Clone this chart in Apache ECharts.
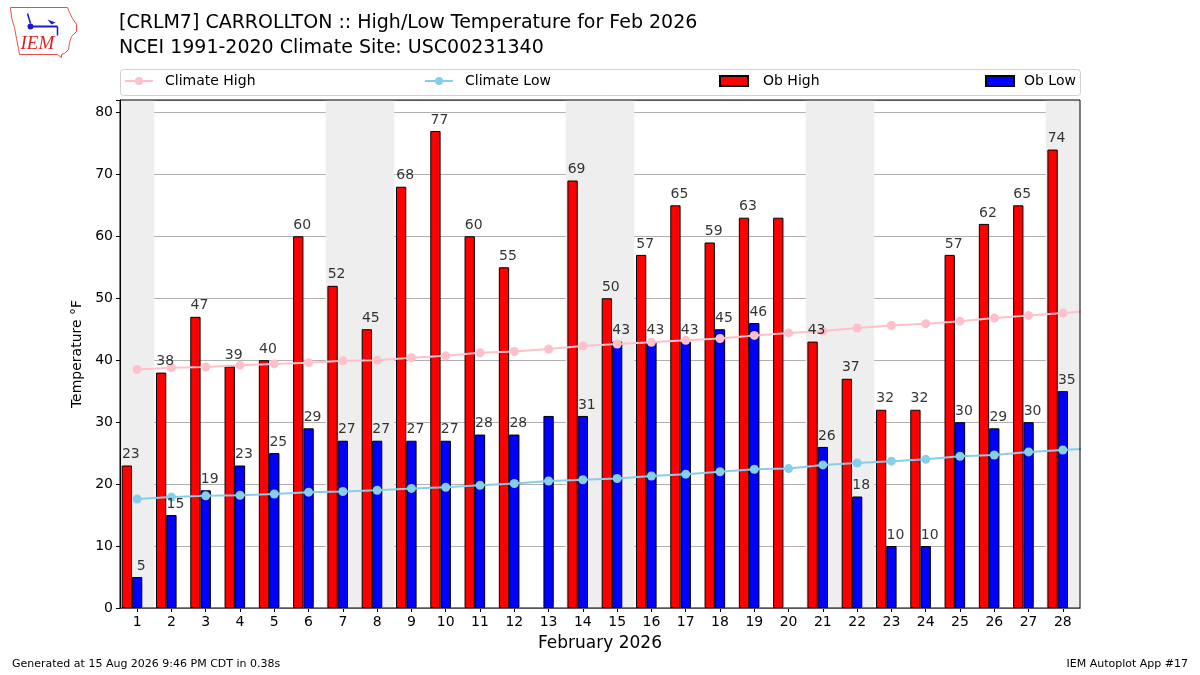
<!DOCTYPE html>
<html>
<head>
<meta charset="utf-8">
<script src="https://cdn.jsdelivr.net/npm/echarts@6/dist/echarts.min.js"></script>
<style>
  html, body { margin: 0; padding: 0; background: #fff; }
  #chart { width: 1200px; height: 675px; }
</style>
</head>
<body>
<div id="chart"></div>
<script>
// data
var dayLabels = ['1','2','3','4','5','6','7','8','9','10','11','12','13','14',
                 '15','16','17','18','19','20','21','22','23','24','25','26','27','28'];
var obHigh = [23, 38, 47, 39, 40, 60, 52, 45, 68, 77, 60, 55, null, 69,
              50, 57, 65, 59, 63, 63, 43, 37, 32, 32, 57, 62, 65, 74];
var obLow = [5, 15, 19, 23, 25, 29, 27, 27, 27, 27, 28, 28, 31, 31,
             43, 43, 43, 45, 46, null, 26, 18, 10, 10, 30, 29, 30, 35];
// days whose value label is not printed in the original
var highNoLabel = [20];
var lowNoLabel = [13];
// climatology runs one day past the end of the month (clipped at the frame)
var climateHigh = [38.5, 38.8, 38.9, 39.2, 39.4, 39.6, 39.9, 40.0, 40.4, 40.7, 41.2, 41.4, 41.8, 42.3,
                   42.6, 42.9, 43.2, 43.5, 44.0, 44.4, 44.7, 45.2, 45.6, 45.9, 46.3, 46.8, 47.2, 47.6, 48.0];
var climateLow = [17.6, 17.9, 18.1, 18.2, 18.4, 18.7, 18.8, 19.0, 19.3, 19.5, 19.8, 20.1, 20.5, 20.7,
                  20.9, 21.3, 21.6, 22.0, 22.4, 22.5, 23.1, 23.4, 23.7, 24.0, 24.5, 24.7, 25.2, 25.5, 25.8];
var weekendDays = [1, 7, 8, 14, 15, 21, 22, 28];

var FONT = 'DejaVu Sans';
var BAR_W = 10.3;

function barData(vals) {
    return vals.map(function (v, i) { return [i + 1, v]; });
}
// value labels are drawn by a blank scatter on top so they sit over the climate dots
function labelData(vals, noLabel) {
    var out = [];
    for (var i = 0; i < vals.length; i++) {
        if (vals[i] === null || noLabel.indexOf(i + 1) >= 0) continue;
        out.push([i + 1, vals[i]]);
    }
    return out;
}
function lineData(vals) {
    return vals.map(function (v, i) { return [i + 1, v]; });
}
var shade = weekendDays.map(function (d) {
    return [{ xAxis: d - 0.5 }, { xAxis: d + 0.5 }];
});

var chart = echarts.init(document.getElementById('chart'));
function valueLabel(dx) {
    return {
        show: true,
        position: 'top',
        distance: 4,
        offset: [dx, 0],
        color: '#000',
        fontSize: 14,
        fontFamily: FONT,
        formatter: function (p) { return p.value[1]; }
    };
}
var legendText = { fontSize: 14, fontFamily: FONT, color: '#000' };

var option = {
    animation: false,
    backgroundColor: '#fff',
    title: {
        text: '[CRLM7] CARROLLTON :: High/Low Temperature for Feb 2026\nNCEI 1991-2020 Climate Site: USC00231340',
        left: 119, top: 11, padding: 0,
        textStyle: { fontSize: 19, fontWeight: 'normal', fontFamily: FONT, color: '#000', lineHeight: 25 }
    },
    legend: [
        { data: ['Climate High'], left: 124, top: 74, padding: 0, itemWidth: 28, itemHeight: 10,
          textStyle: Object.assign({ padding: [0, 0, 0, 7] }, legendText) },
        { data: ['Climate Low'], left: 424, top: 74, padding: 0, itemWidth: 28, itemHeight: 10,
          textStyle: Object.assign({ padding: [0, 0, 0, 7] }, legendText) },
        { data: [{ name: 'Ob High', icon: 'rect' }], left: 719, top: 74, padding: 0, itemWidth: 28, itemHeight: 10,
          textStyle: Object.assign({ padding: [0, 0, 0, 10] }, legendText) },
        { data: [{ name: 'Ob Low', icon: 'rect' }], left: 985, top: 74, padding: 0, itemWidth: 28, itemHeight: 10,
          textStyle: Object.assign({ padding: [0, 0, 0, 5] }, legendText) }
    ],
    grid: {
        left: 120, right: 120, top: 100, bottom: 67,
        show: true, borderColor: '#000', borderWidth: 1, backgroundColor: 'transparent', z: 5
    },
    xAxis: [
        {
            type: 'category', data: dayLabels, position: 'bottom', boundaryGap: true,
            axisLine: { show: true, lineStyle: { color: '#000' } },
            axisTick: { show: true, alignWithLabel: true, length: 4, lineStyle: { color: '#000' } },
            axisLabel: { fontSize: 14, fontFamily: FONT, color: '#000', margin: 7 },
            splitLine: { show: false },
            name: 'February 2026', nameLocation: 'middle', nameGap: 27,
            nameTextStyle: { fontSize: 17, fontFamily: FONT, color: '#000' }
        },
        { type: 'value', min: 0.65, max: 28.65, show: false, position: 'bottom' },
        { type: 'value', min: 0.5, max: 28.5, show: false, position: 'bottom' }
    ],
    yAxis: {
        type: 'value', min: 0, max: 82, interval: 10, z: 1,
        axisLine: { show: true, lineStyle: { color: '#000' } },
        axisTick: { show: true, length: 4, lineStyle: { color: '#000' } },
        axisLabel: {
            fontSize: 14, fontFamily: FONT, color: '#000', margin: 7,
            formatter: function (v) { return v % 10 === 0 ? v : ''; }
        },
        splitLine: { show: true, lineStyle: { color: '#b0b0b0', width: 1 } },
        name: 'Temperature °F', nameLocation: 'middle', nameGap: 35,
        nameTextStyle: { fontSize: 14, fontFamily: FONT, color: '#000' }
    },
    graphic: [
        {
            type: 'rect', left: 120, top: 69, z: 0,
            shape: { width: 960, height: 26, r: 3 },
            style: { fill: '#fff', stroke: '#d0d0d0', lineWidth: 1 }
        },
        {
            type: 'text', left: 12, top: 659,
            style: { text: 'Generated at 15 Aug 2026 9:46 PM CDT in 0.38s', font: '11px "DejaVu Sans"', fill: '#000' }
        },
        {
            type: 'text', right: 12, top: 659,
            style: { text: 'IEM Autoplot App #17', font: '11px "DejaVu Sans"', fill: '#000' }
        },
        {
            // rough IEM logo: Iowa outline, instruments, letters
            type: 'group', left: 8, top: 5,
            children: [
                {
                    type: 'polyline',
                    shape: { points: [[3, 2], [60, 2], [62, 7], [65, 13], [69, 19], [69, 26], [64, 31],
                                      [62, 37], [61, 44], [57, 48], [54, 49], [54, 52], [50, 49], [12, 49],
                                      [11, 43], [9, 33], [7, 22], [4, 12], [3, 2]] },
                    style: { stroke: '#e05050', fill: 'none', lineWidth: 1 }
                },
                { type: 'line', shape: { x1: 22, y1: 21, x2: 50, y2: 21 }, style: { stroke: '#1a1acc', lineWidth: 2 } },
                { type: 'circle', shape: { cx: 23, cy: 21, r: 3 }, style: { fill: '#1a1acc' } },
                { type: 'line', shape: { x1: 20, y1: 8, x2: 23, y2: 18 }, style: { stroke: '#1a1acc', lineWidth: 1.5 } },
                { type: 'line', shape: { x1: 50, y1: 21, x2: 50, y2: 30 }, style: { stroke: '#1a1acc', lineWidth: 1.5 } },
                { type: 'polygon', shape: { points: [[40, 14], [48, 17], [44, 19]] }, style: { fill: '#1a1acc' } },
                {
                    type: 'text', x: 13, y: 29,
                    style: { text: 'IEM', font: 'italic 19px "Liberation Serif"', fill: '#dd2222' }
                }
            ]
        }
    ],
    series: [
        {
            name: 'weekend', type: 'line', xAxisIndex: 2, data: [], z: 0, silent: true,
            markArea: { silent: true, itemStyle: { color: '#eeeeee' }, data: shade }
        },
        {
            name: 'Ob High', type: 'bar', xAxisIndex: 1, data: barData(obHigh),
            barWidth: BAR_W, barGap: '0%', z: 2,
            itemStyle: { color: '#ff0000', borderColor: '#000', borderWidth: 1 }
        },
        {
            name: 'Ob Low', type: 'bar', xAxisIndex: 1, data: barData(obLow),
            barWidth: BAR_W, barGap: '0%', z: 2,
            itemStyle: { color: '#0000ff', borderColor: '#000', borderWidth: 1 }
        },
        {
            name: 'Climate High', type: 'line', xAxisIndex: 2, data: lineData(climateHigh), z: 3,
            symbol: 'circle', symbolSize: 9, showAllSymbol: true,
            lineStyle: { color: '#ffc0cb', width: 2 }, itemStyle: { color: '#ffc0cb' }
        },
        {
            name: 'Climate Low', type: 'line', xAxisIndex: 2, data: lineData(climateLow), z: 3,
            symbol: 'circle', symbolSize: 9, showAllSymbol: true,
            lineStyle: { color: '#87ceeb', width: 2 }, itemStyle: { color: '#87ceeb' }
        },
        {
            name: 'high labels', type: 'scatter', xAxisIndex: 1, data: labelData(obHigh, highNoLabel),
            symbolSize: 0, silent: true, z: 4, label: valueLabel(4 - BAR_W / 2)
        },
        {
            name: 'low labels', type: 'scatter', xAxisIndex: 1, data: labelData(obLow, lowNoLabel),
            symbolSize: 0, silent: true, z: 4, label: valueLabel(4 + BAR_W / 2)
        }
    ]
};
chart.setOption(option);
</script>
</body>
</html>
